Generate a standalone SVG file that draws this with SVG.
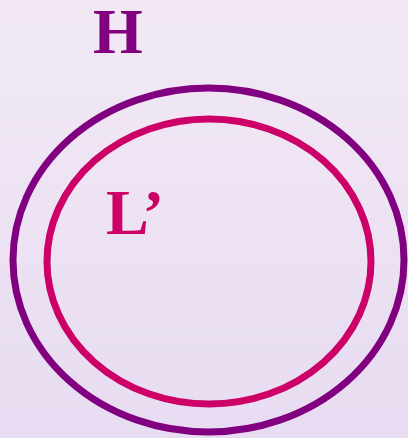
<svg xmlns="http://www.w3.org/2000/svg" width="408" height="438" viewBox="0 0 408 438">
<defs>
<linearGradient id="bg" x1="0" y1="0" x2="0" y2="1">
<stop offset="0" stop-color="#f2e9f5"/>
<stop offset="1" stop-color="#e7dcf1"/>
</linearGradient>
<style>
.lbl{font-family:"Liberation Serif","Times New Roman",serif;font-weight:bold;font-size:64px}
.ring{fill:none;stroke-width:7}
</style>
</defs>
<rect width="408" height="438" fill="url(#bg)"/>
<g id="H">
<ellipse class="ring" cx="208.5" cy="260" rx="195.5" ry="172" stroke="#800080"/>
<text class="lbl" x="93" y="53" fill="#800080">H</text>
</g>
<g id="L">
<ellipse class="ring" cx="209" cy="261.5" rx="162" ry="142.5" stroke="#cc0066"/>
<text class="lbl" x="106" y="234" fill="#cc0066">L’</text>
</g>
<g id="connectors"/>
</svg>
